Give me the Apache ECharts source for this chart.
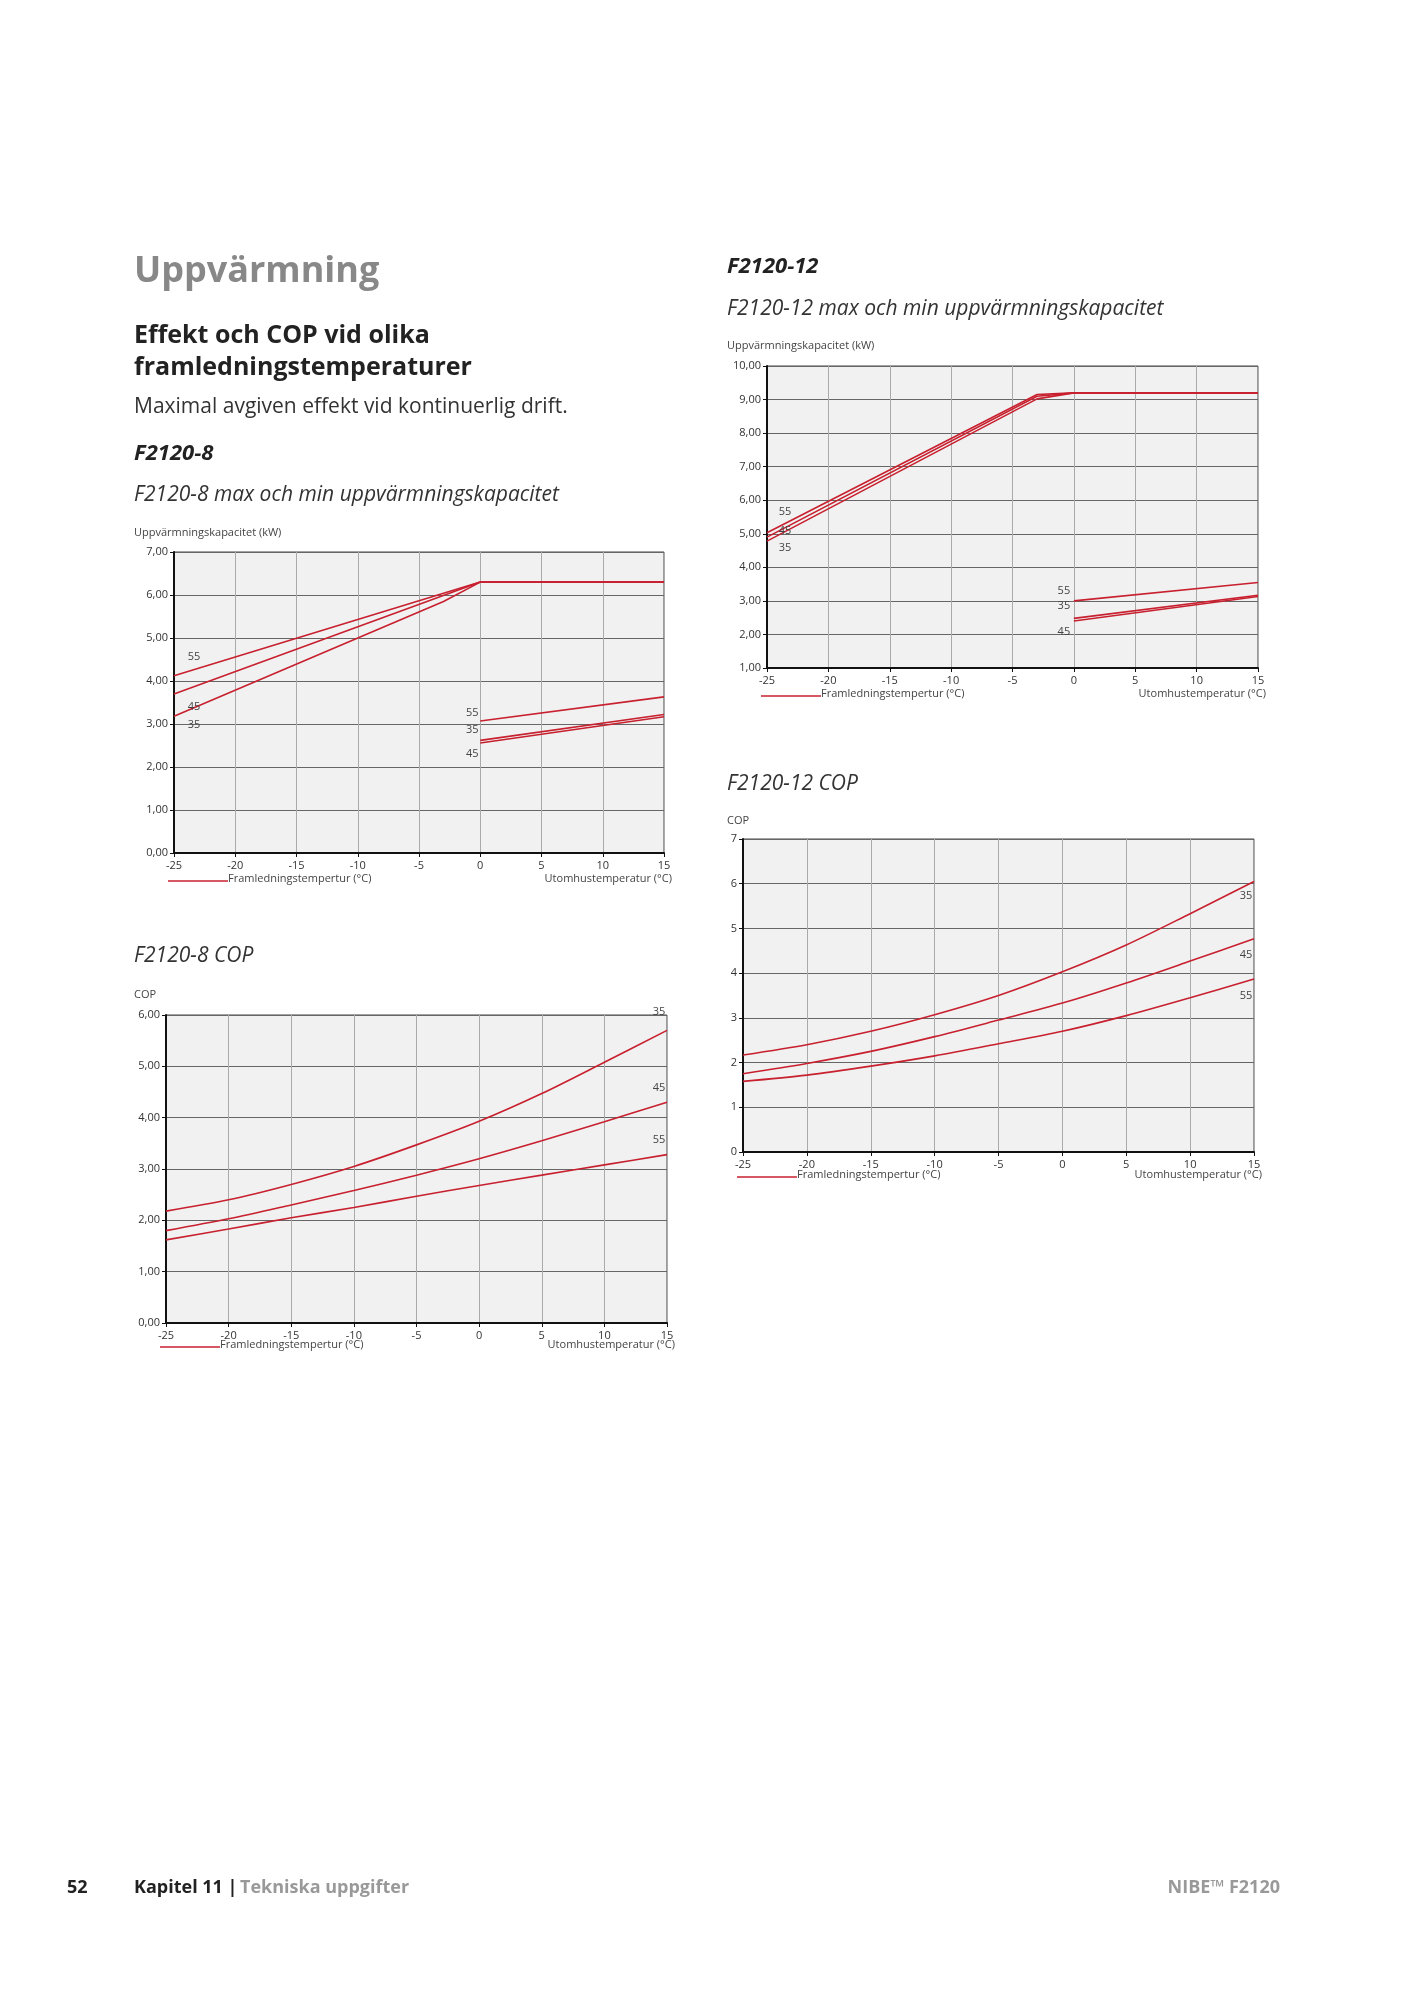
<!DOCTYPE html>
<html><head><meta charset="utf-8">
<script src="https://cdn.jsdelivr.net/npm/echarts@6/dist/echarts.min.js"></script>
<style>html,body{margin:0;background:#fff}#c{width:1405px;height:1989px}</style>
</head><body><div id="c"></div>
<script>
// ── Data ─────────────────────────────────────────────────────────────────────
var temps = [-25, -20, -15, -10, -5, 0, 5, 10, 15];

// F2120-8 capacity (kW)
var cap8Max55 = [[-25, 4.12], [0, 6.30], [15, 6.30]];
var cap8Max45 = [[-25, 3.70], [0, 6.30], [15, 6.30]];
var cap8Max35 = [[-25, 3.18], [-3, 5.85], [0, 6.30], [15, 6.30]];
var cap8Min55 = [[0, 3.07], [15, 3.63]];
var cap8Min35 = [[0, 2.62], [15, 3.22]];
var cap8Min45 = [[0, 2.56], [15, 3.17]];

// F2120-12 capacity (kW)
var cap12Max55 = [[-25, 5.03], [-3, 9.15], [0, 9.20], [15, 9.20]];
var cap12Max45 = [[-25, 4.90], [-3, 9.10], [0, 9.20], [15, 9.20]];
var cap12Max35 = [[-25, 4.78], [-3, 9.02], [0, 9.20], [15, 9.20]];
var cap12Min55 = [[0, 3.00], [15, 3.55]];
var cap12Min35 = [[0, 2.48], [15, 3.17]];
var cap12Min45 = [[0, 2.40], [15, 3.13]];

// COP
var cop8_35 = [2.18, 2.40, 2.70, 3.05, 3.47, 3.93, 4.47, 5.08, 5.70];
var cop8_45 = [1.80, 2.03, 2.30, 2.58, 2.88, 3.20, 3.55, 3.92, 4.30];
var cop8_55 = [1.62, 1.83, 2.05, 2.25, 2.47, 2.68, 2.88, 3.08, 3.28];
var cop12_35 = [2.17, 2.40, 2.70, 3.07, 3.50, 4.03, 4.63, 5.33, 6.05];
var cop12_45 = [1.75, 1.98, 2.25, 2.58, 2.95, 3.33, 3.78, 4.27, 4.77];
var cop12_55 = [1.58, 1.72, 1.92, 2.15, 2.42, 2.70, 3.05, 3.45, 3.87];

// ── Style ────────────────────────────────────────────────────────────────────
var RED = '#c8202f', FONT = "'Open Sans', sans-serif";
var grids = [
  { left: 174, top: 552, width: 490, height: 301 },
  { left: 767, top: 366, width: 491, height: 302 },
  { left: 166, top: 1015, width: 501, height: 308 },
  { left: 743, top: 839, width: 511, height: 313 }
];
grids.forEach(function (g) { g.show = true; g.backgroundColor = '#f0f1f0'; g.borderColor = '#444'; g.borderWidth = 1; });

function comma(v) { return v.toFixed(2).replace('.', ','); }
function xAxis(i) {
  return { type: 'value', gridIndex: i, min: -25, max: 15, interval: 5,
    axisLine: { onZero: false, lineStyle: { color: '#111', width: 2 } }, axisTick: { show: true, length: 4, lineStyle: { color: '#111' } },
    axisLabel: { color: '#333', fontSize: 11, fontFamily: FONT, margin: 7 },
    splitLine: { lineStyle: { color: '#aaa', width: 1 } } };
}
function yAxis(i, min, max, fmt) {
  return { type: 'value', gridIndex: i, min: min, max: max, interval: 1,
    axisLine: { show: true, onZero: false, lineStyle: { color: '#111', width: 2 } }, axisTick: { show: true, length: 4, lineStyle: { color: '#111' } },
    axisLabel: { color: '#333', fontSize: 11, fontFamily: FONT, margin: 6, formatter: fmt },
    splitLine: { lineStyle: { color: '#666', width: 1 } } };
}
function lbl(pos, off) {
  return { show: true, position: pos || 'top', offset: off || [0, 0], color: '#444', fontSize: 11, fontFamily: FONT,
    formatter: function (p) { return p.seriesName; } };
}
// labelled series: label placed on data point index li
function line(name, i, pts, li, pos, off) {
  var d = pts.map(function (p, k) { return k === li ? { value: p, label: lbl(pos, off) } : p; });
  return { type: 'line', name: name, xAxisIndex: i, yAxisIndex: i, data: d, symbol: 'circle', symbolSize: 0,
    showSymbol: true, silent: true, lineStyle: { color: RED, width: 1.6 }, itemStyle: { color: RED }, z: 5 };
}
function zip(vals) { return temps.map(function (t, k) { return [t, vals[k]]; }); }
function curve(name, i, vals, li, pos, off) {
  var s = line(name, i, zip(vals), li, pos, off); s.smooth = 0.3; return s;
}

var series = [
  line('55', 0, cap8Max55, 0, 'top', [20, -8]),
  line('45', 0, cap8Max45, 0, 'bottom', [20, 2]),
  line('35', 0, cap8Max35, 0, 'bottom', [20, -2]),
  line('55', 0, cap8Min55, 0, 'top', [-8, 2]),
  line('35', 0, cap8Min35, 0, 'top', [-8, 0]),
  line('45', 0, cap8Min45, 0, 'bottom', [-8, 0]),
  line('55', 1, cap12Max55, 0, 'top', [18, -10]),
  line('45', 1, cap12Max45, 0, 'top', [18, 4]),
  line('35', 1, cap12Max35, 0, 'bottom', [18, -4]),
  line('55', 1, cap12Min55, 0, 'top', [-10, 0]),
  line('35', 1, cap12Min35, 0, 'top', [-10, -2]),
  line('45', 1, cap12Min45, 0, 'bottom', [-10, 0]),
  curve('35', 2, cop8_35, 8, 'top', [-8, -8]),
  curve('45', 2, cop8_45, 8, 'top', [-8, -4]),
  curve('55', 2, cop8_55, 8, 'top', [-8, -4]),
  curve('35', 3, cop12_35, 8, 'bottom', [-8, 4]),
  curve('45', 3, cop12_45, 8, 'bottom', [-8, 6]),
  curve('55', 3, cop12_55, 8, 'bottom', [-8, 6])
];

function txt(x, y, s, size, opts) {
  opts = opts || {};
  return { type: 'text', left: x, top: y, silent: true,
    style: { text: s, fontSize: size, fontFamily: opts.family || FONT, fontWeight: opts.weight || 'normal',
      fontStyle: opts.style || 'normal', fill: opts.fill || '#222', textAlign: opts.align || 'left' } };
}
function legend(g, yOff) {
  return [
    { type: 'line', silent: true, shape: { x1: g.left - 6, y1: g.top + g.height + yOff + 8, x2: g.left + 54, y2: g.top + g.height + yOff + 8 },
      style: { stroke: RED, lineWidth: 1.6 } },
    txt(g.left + 54, g.top + g.height + yOff, 'Framledningstempertur (°C)', 11, { fill: '#444' }),
    { type: 'text', silent: true, x: g.left + g.width + 8, y: g.top + g.height + yOff,
      style: { text: 'Utomhustemperatur (°C)', fontSize: 11, fontFamily: FONT, fill: '#444', textAlign: 'right' } }
  ];
}

var graphic = [
  txt(134, 254, 'Uppvärmning', 36, { weight: 'bold', fill: '#888' }),
  txt(134, 323, 'Effekt och COP vid olika', 25, { weight: 'bold' }),
  txt(134, 355, 'framledningstemperaturer', 25, { weight: 'bold' }),
  txt(134, 397, 'Maximal avgiven effekt vid kontinuerlig drift.', 21, { fill: '#333' }),
  txt(134, 443, 'F2120-8', 22, { weight: 'bold', style: 'italic' }),
  txt(134, 485, 'F2120-8 max och min uppvärmningskapacitet', 21, { style: 'italic', fill: '#333' }),
  txt(134, 527, 'Uppvärmningskapacitet (kW)', 11, { fill: '#444' }),
  txt(134, 946, 'F2120-8 COP', 21, { style: 'italic', fill: '#333' }),
  txt(134, 989, 'COP', 11, { fill: '#444' }),
  txt(727, 256, 'F2120-12', 22, { weight: 'bold', style: 'italic' }),
  txt(727, 299, 'F2120-12 max och min uppvärmningskapacitet', 21, { style: 'italic', fill: '#333' }),
  txt(727, 340, 'Uppvärmningskapacitet (kW)', 11, { fill: '#444' }),
  txt(727, 774, 'F2120-12 COP', 21, { style: 'italic', fill: '#333' }),
  txt(727, 815, 'COP', 11, { fill: '#444' }),
  txt(67, 1879, '52', 18, { weight: 'bold' }),
  txt(134, 1879, 'Kapitel 11 |', 18, { weight: 'bold' }),
  txt(240, 1879, 'Tekniska uppgifter', 18, { weight: 'bold', fill: '#999' }),
  { type: 'text', silent: true, x: 1280, y: 1879,
    style: { text: 'NIBE™ F2120', fontSize: 18, fontFamily: FONT, fontWeight: 'bold', fill: '#999', textAlign: 'right' } }
].concat(legend(grids[0], 20), legend(grids[1], 20), legend(grids[2], 16), legend(grids[3], 17));

var chart = echarts.init(document.getElementById('c'), null, { renderer: 'canvas' });
chart.setOption({
  animation: false,
  backgroundColor: '#fff',
  grid: grids,
  xAxis: [xAxis(0), xAxis(1), xAxis(2), xAxis(3)],
  yAxis: [yAxis(0, 0, 7, comma), yAxis(1, 1, 10, comma), yAxis(2, 0, 6, comma), yAxis(3, 0, 7, function (v) { return v; })],
  series: series,
  graphic: graphic
});
</script></body></html>
